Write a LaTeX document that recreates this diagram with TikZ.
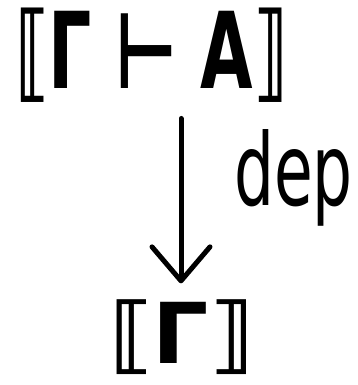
\documentclass[tikz,border=0pt]{standalone}
\usepackage{fontspec}
\setmainfont{DejaVu Sans}
\usetikzlibrary{arrows.meta}
\begin{document}
\begin{tikzpicture}[x=1pt,y=-1pt,
  term/.style={font=\fontsize{106}{120}\selectfont\bfseries, inner sep=0pt, xscale=0.64},
  small/.style={font=\fontsize{84}{96}\selectfont\bfseries, inner sep=0pt, xscale=1.05},
  lbl/.style={font=\fontsize{100}{110}\selectfont, inner sep=0pt, xscale=0.63},
  arr/.style={line width=5pt, line cap=round, shorten <=16pt, shorten >=16pt,
    -{Straight Barb[length=34pt,width=58pt,line width=5pt,round]}}]
\useasboundingbox (0,0) rectangle (357,385);
\node[term] (a) at (151,55) {⟦Γ ⊢ A⟧};
\node[small] (b) at (181,337) {⟦Γ⟧};
\draw[arr] (a.south -| b.north) -- (b.north);
\node[lbl, anchor=west] (d) at (234,178) {dep};
\end{tikzpicture}
\end{document}
